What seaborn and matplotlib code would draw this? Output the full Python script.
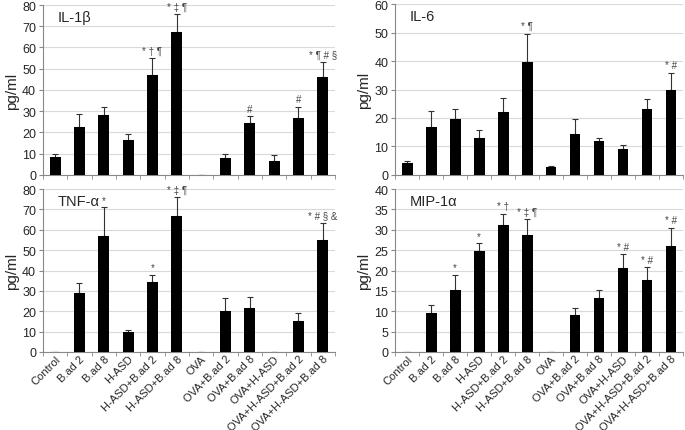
import numpy as np
import matplotlib
matplotlib.use("Agg")
import matplotlib.pyplot as plt
import seaborn as sns
from matplotlib.ticker import FixedLocator

groups = ["Control", "B.ad 2", "B.ad 8", "H-ASD", "H-ASD+B.ad 2", "H-ASD+B.ad 8",
          "OVA", "OVA+B.ad 2", "OVA+B.ad 8", "OVA+H-ASD", "OVA+H-ASD+B.ad 2",
          "OVA+H-ASD+B.ad 8"]

il1b = [8.5, 22.5, 28.2, 16.3, 47.0, 67.5, 0, 8.0, 24.5, 6.6, 27.0, 46.0]
il1b_err = [1.5, 6.0, 3.8, 3.0, 8.0, 8.3, 0, 2.0, 3.2, 2.8, 5.0, 7.0]
il1b_sig = ["", "", "", "", "* † ¶", "* ‡ ¶", "", "", "#", "", "#", "* ¶ # §"]

il6 = [4.3, 16.8, 19.5, 12.8, 22.0, 39.8, 2.7, 14.5, 11.8, 9.0, 23.0, 29.8]
il6_err = [0.5, 5.5, 3.6, 2.8, 5.0, 9.8, 0.4, 5.3, 1.3, 1.4, 3.8, 6.0]
il6_sig = ["", "", "", "", "", "* ¶", "", "", "", "", "", "* #"]

tnfa = [0, 29.0, 57.0, 9.7, 34.5, 67.0, 0, 20.0, 21.7, 0, 15.2, 55.0]
tnfa_err = [0, 5.0, 14.0, 0.9, 3.5, 9.0, 0, 6.5, 5.3, 0, 3.7, 8.5]
tnfa_sig = ["", "", "*", "", "*", "* ‡ ¶", "", "", "", "", "", "* # § &"]

mip1a = [0, 9.6, 15.2, 24.7, 31.2, 28.7, 0, 9.0, 13.3, 20.6, 17.6, 25.9]
mip1a_err = [0, 2.0, 3.8, 2.0, 2.7, 4.0, 0, 1.7, 2.0, 3.4, 3.2, 4.6]
mip1a_sig = ["", "", "*", "*", "* †", "* ‡ ¶", "", "", "", "* #", "* #", "* #"]

sns.set_style("white")
plt.rcParams["font.family"] = ["Liberation Sans", "DejaVu Sans"]

fig = plt.figure(figsize=(6.85, 4.31), dpi=100)


def panel(rect, vals, errs, sig, title, ymax, ystep, show_labels):
    ax = fig.add_axes(rect)
    x = np.arange(len(groups))
    sns.barplot(x=groups, y=vals, color="black", width=0.45, ax=ax,
                saturation=1, edgecolor="black", linewidth=0, zorder=3)
    ax.errorbar(x, vals, yerr=[np.zeros(len(vals)), errs], fmt="none",
                ecolor="#333333", elinewidth=0.8, capsize=2.5, capthick=0.8, zorder=2)
    for xi, v, e, s in zip(x, vals, errs, sig):
        if s:
            ax.text(xi, v + e + ymax * 0.015, s, ha="center", va="bottom",
                    fontsize=7, color="#444444")
    ax.set_ylim(0, ymax)
    ax.set_xlim(-0.5, len(groups) - 0.5)
    ax.set_yticks(np.arange(0, ymax + 0.01, ystep))
    ax.yaxis.grid(True, color="#d9d9d9", linewidth=0.8, zorder=0)
    ax.set_axisbelow(True)
    for side in ["top", "right"]:
        ax.spines[side].set_visible(False)
    for side in ["left", "bottom"]:
        ax.spines[side].set_color("#888888")
        ax.spines[side].set_linewidth(0.8)
    ax.tick_params(axis="y", labelsize=9, length=3, color="#888888", pad=2,
                   left=True)
    ax.xaxis.set_minor_locator(FixedLocator(np.arange(-0.5, len(groups), 1.0)))
    ax.tick_params(axis="x", which="minor", length=3, color="#888888", bottom=True)
    ax.tick_params(axis="x", which="major", length=0, pad=1)
    if show_labels:
        ax.set_xticks(x)
        ax.set_xticklabels(groups, rotation=45, ha="right", rotation_mode="anchor",
                           fontsize=8)
    else:
        ax.set_xticklabels([])
    ax.set_xlabel("")
    ax.set_ylabel("pg/ml", fontsize=11, labelpad=2)
    ax.text(0.05, 0.97, title, transform=ax.transAxes, ha="left", va="top",
            fontsize=10.5)
    return ax


panel([0.0628, 0.592, 0.426, 0.394], il1b, il1b_err, il1b_sig, "IL-1β", 80, 10, False)
panel([0.577, 0.592, 0.420, 0.396], il6, il6_err, il6_sig, "IL-6", 60, 10, False)
panel([0.0628, 0.181, 0.426, 0.378], tnfa, tnfa_err, tnfa_sig, "TNF-α", 80, 10, True)
panel([0.577, 0.181, 0.420, 0.378], mip1a, mip1a_err, mip1a_sig, "MIP-1α", 40, 5, True)

fig.savefig("out.png", dpi=100)
